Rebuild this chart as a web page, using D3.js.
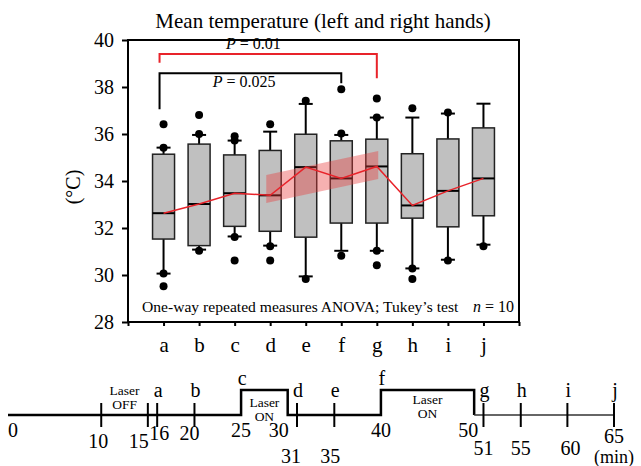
<html>
<script src='https://d3js.org/d3.v7.min.js'></script>
<style>
    body { margin: 0; background: #fff; }
    text { font-family: 'Liberation Serif', 'DejaVu Serif', serif; fill: #000; }
    .box { fill: #c0c0c0; stroke: #222; stroke-width: 1.5; }
    .tick line { stroke: #000; stroke-width: 2; }
</style>

<body onload='init()'>
    <svg width=641 height=466>
    </svg>
    <script>
        // box plot stats (deg C)
        const groups = ['a', 'b', 'c', 'd', 'e', 'f', 'g', 'h', 'i', 'j'];
        const q1 = [31.53, 31.25, 32.07, 31.86, 31.61, 32.21, 32.21, 32.42, 32.05, 32.52];
        const q3 = [35.14, 35.57, 35.11, 35.30, 35.99, 35.71, 35.78, 35.16, 35.79, 36.26];
        const medians = [32.63, 33.02, 33.48, 33.39, 34.59, 34.11, 34.62, 32.96, 33.58, 34.11];
        const whiskerLow = [30.06, 31.08, 31.64, 31.25, 29.94, 31.03, 31.03, 30.28, 30.65, 31.29];
        const whiskerHigh = [35.42, 35.96, 35.72, 36.10, 37.28, 35.96, 36.70, 36.70, 36.87, 37.29];
        const outliers = [
            [36.42, 35.42, 30.06, 29.52],
            [36.81, 36.00, 31.03],
            [35.90, 35.72, 31.62, 30.62],
            [36.42, 31.22, 30.62],
            [37.42, 29.83],
            [37.90, 36.02, 30.82],
            [37.51, 36.70, 31.03, 30.42],
            [37.10, 30.28, 29.83],
            [36.91, 30.62],
            [31.22]
        ];
        const yTicks = [28, 30, 32, 34, 36, 38, 40];

        // shaded trend band (x in group units, y in deg C)
        const bandX = [3.89, 7.04];
        const bandLow = [33.06, 34.08];
        const bandHigh = [34.26, 35.28];

        // significance brackets
        const bracketFrom = ['a', 'a'];
        const bracketTo = ['f', 'g'];
        const bracketTop = [38.58, 39.40];
        const bracketLeftEnd = [37.05, 39.03];
        const bracketRightEnd = [38.16, 38.37];
        const bracketP = ['0.025', '0.01'];

        // protocol timeline (minutes)
        const laserT = [0, 25, 30, 40, 50];
        const laserOn = [0, 1, 0, 1, 0];
        const tailT = [50, 65];
        const tickT = [10, 15, 16, 20, 31, 35, 51, 55, 60, 65];
        const minuteLabels = [0, 10, 15, 16, 20, 25, 30, 31, 35, 40, 50, 51, 55, 60, 65];
        const sampleT = [16, 20, 25, 31, 35, 40, 51, 55, 60, 65];

        function init() {
            const svg = d3.select('svg');

            // Scales
            let x = d3.scaleLinear().domain([0, 11]).range([128, 519]);
            let y = d3.scaleLinear().domain([28, 40]).range([322, 40]);
            let gi = g => groups.indexOf(g) + 1;

            svg.append('text')
                .attr('x', 323).attr('y', 28)
                .attr('text-anchor', 'middle')
                .style('font-size', '21px')
                .text('Mean temperature (left and right hands)');

            svg.append('text')
                .attr('transform', 'translate(80,187) rotate(-90)')
                .attr('text-anchor', 'middle')
                .style('font-size', '20px')
                .text('(°C)');

            // axes
            let y_axis = d3.axisLeft(y).tickValues(yTicks).tickSize(6).tickPadding(8);
            let yg = svg.append('g').attr('transform', `translate(${x(0)},0)`).call(y_axis);
            yg.select('.domain').remove();
            yg.selectAll('text').style('font-size', '20px').style('font-family', 'Liberation Serif');

            let x_axis = d3.axisBottom(x).tickValues(d3.range(0, 12)).tickSize(4).tickPadding(11)
                .tickFormat(i => groups[i - 1] || '');
            let xg = svg.append('g').attr('transform', `translate(0,${y(28)})`).call(x_axis);
            xg.select('.domain').remove();
            xg.selectAll('text').style('font-size', '21px').style('font-family', 'Liberation Serif');

            svg.append('rect')
                .attr('x', x(0)).attr('y', y(40))
                .attr('width', x(11) - x(0)).attr('height', y(28) - y(40))
                .attr('fill', 'none').attr('stroke', '#000').attr('stroke-width', 2);

            // boxes
            const boxW = 22, capW = 14;
            const plot = svg.append('g');
            const stat = plot.selectAll('g.stat')
                .data(groups.map((g, i) => ({ pos: i + 1, i: i })))
                .enter().append('g');

            stat.append('line')
                .attr('x1', d => x(d.pos)).attr('x2', d => x(d.pos))
                .attr('y1', d => y(whiskerHigh[d.i])).attr('y2', d => y(whiskerLow[d.i]))
                .attr('stroke', '#000').attr('stroke-width', 2);
            stat.selectAll('line.cap')
                .data(d => [[d.pos, whiskerLow[d.i]], [d.pos, whiskerHigh[d.i]]])
                .enter().append('line')
                .attr('x1', d => x(d[0]) - capW / 2).attr('x2', d => x(d[0]) + capW / 2)
                .attr('y1', d => y(d[1])).attr('y2', d => y(d[1]))
                .attr('stroke', '#000').attr('stroke-width', 2);
            stat.append('rect')
                .attr('class', 'box')
                .attr('x', d => x(d.pos) - boxW / 2)
                .attr('width', boxW)
                .attr('y', d => y(q3[d.i]))
                .attr('height', d => y(q1[d.i]) - y(q3[d.i]));
            stat.append('line')
                .attr('x1', d => x(d.pos) - boxW / 2).attr('x2', d => x(d.pos) + boxW / 2)
                .attr('y1', d => y(medians[d.i])).attr('y2', d => y(medians[d.i]))
                .attr('stroke', '#000').attr('stroke-width', 2);
            stat.selectAll('circle')
                .data(d => outliers[d.i].map(v => [d.pos, v]))
                .enter().append('circle')
                .attr('cx', d => x(d[0])).attr('cy', d => y(d[1])).attr('r', 4)
                .attr('fill', '#000');

            // trend band
            const band = bandX.map((v, i) => ({ x: v, lo: bandLow[i], hi: bandHigh[i] }));
            plot.append('path')
                .datum(band)
                .attr('d', d3.area().x(d => x(d.x)).y0(d => y(d.lo)).y1(d => y(d.hi)))
                .attr('fill', 'rgba(232,60,60,0.4)');

            // median trend line
            plot.append('path')
                .datum(medians)
                .attr('d', d3.line().x((d, i) => x(i + 1)).y(d => y(d)))
                .attr('fill', 'none').attr('stroke', '#e8232a').attr('stroke-width', 1.5);

            // brackets
            const colors = ['#000', '#e8232a'];
            const labelPos = [[3.27, 38.0], [3.53, 39.6]];
            bracketFrom.forEach((f, k) => {
                const x0 = x(gi(f)) - 4, x1 = x(gi(bracketTo[k]));
                svg.append('path')
                    .attr('d', `M${x0},${y(bracketLeftEnd[k])}V${y(bracketTop[k])}H${x1}V${y(bracketRightEnd[k])}`)
                    .attr('fill', 'none').attr('stroke', colors[k]).attr('stroke-width', 2);
                const t = svg.append('text')
                    .attr('x', x(labelPos[k][0])).attr('y', y(labelPos[k][1]))
                    .attr('text-anchor', 'middle')
                    .style('font-size', '16px');
                t.append('tspan').style('font-style', 'italic').text('P');
                t.append('tspan').text(' = ' + bracketP[k]);
            });

            svg.append('text')
                .attr('x', 142).attr('y', 312)
                .style('font-size', '15.6px')
                .text('One-way repeated measures ANOVA; Tukey’s test');
            const nt = svg.append('text')
                .attr('x', 514).attr('y', 312)
                .attr('text-anchor', 'end')
                .style('font-size', '16px');
            nt.append('tspan').style('font-style', 'italic').text('n');
            nt.append('tspan').text(' = 10');

            // timeline
            let tx = d3.scaleLinear().domain([0, 65]).range([8, 614]);
            let ts = d3.scaleLinear().domain([0, 1]).range([415, 390]);
            const tl = svg.append('g');

            tl.append('path')
                .datum(laserT.map((t, i) => [t, laserOn[i]]))
                .attr('d', d3.line().x(d => tx(d[0])).y(d => ts(d[1])).curve(d3.curveStepAfter))
                .attr('fill', 'none').attr('stroke', '#000').attr('stroke-width', 2.5);
            tl.append('path')
                .datum(tailT)
                .attr('d', d3.line().x(d => tx(d)).y(() => ts(0)))
                .attr('fill', 'none').attr('stroke', '#333').attr('stroke-width', 1.6);

            tl.selectAll('line.tt')
                .data(tickT)
                .enter().append('line')
                .attr('x1', d => tx(d)).attr('x2', d => tx(d))
                .attr('y1', ts(0) - 12).attr('y2', ts(0) + 12)
                .attr('stroke', '#000').attr('stroke-width', 2);

            // label rows (baseline) and nudges for minute numbers
            const rowY = { 0: 437, 10: 448, 15: 448, 16: 440, 20: 440, 25: 437, 30: 437, 31: 463,
                35: 463, 40: 437, 50: 437, 51: 455, 55: 455, 60: 455, 65: 443 };
            const nudge = { 0: 5, 10: -3, 15: -9, 16: 2, 20: -5, 30: -9, 31: -6, 35: -4, 50: -6, 60: 3 };
            tl.selectAll('text.min')
                .data(minuteLabels)
                .enter().append('text')
                .attr('x', d => tx(d) + (nudge[d] || 0))
                .attr('y', d => rowY[d])
                .attr('text-anchor', 'middle')
                .style('font-size', '20px')
                .text(d => d);
            tl.append('text')
                .attr('x', tx(65)).attr('y', 463)
                .attr('text-anchor', 'middle')
                .style('font-size', '18px')
                .text('(min)');

            tl.selectAll('text.letter')
                .data(sampleT)
                .enter().append('text')
                .attr('x', d => tx(d) + 1)
                .attr('y', d => laserT.includes(d) ? 385 : 397)
                .attr('text-anchor', 'middle')
                .style('font-size', '20px')
                .text((d, i) => groups[i]);

            // laser notes, one text per line
            const noteT = [12.5, 12.5, 27.5, 27.5, 45, 45];
            const noteText = ['Laser', 'OFF', 'Laser', 'ON', 'Laser', 'ON'];
            const noteY = [395, 409, 407, 421, 404, 418];
            tl.selectAll('text.note')
                .data(noteText)
                .enter().append('text')
                .attr('x', (d, i) => tx(noteT[i]))
                .attr('y', (d, i) => noteY[i])
                .attr('text-anchor', 'middle')
                .style('font-size', '13.5px')
                .text(d => d);
        }
    </script>
</body>

</html>
